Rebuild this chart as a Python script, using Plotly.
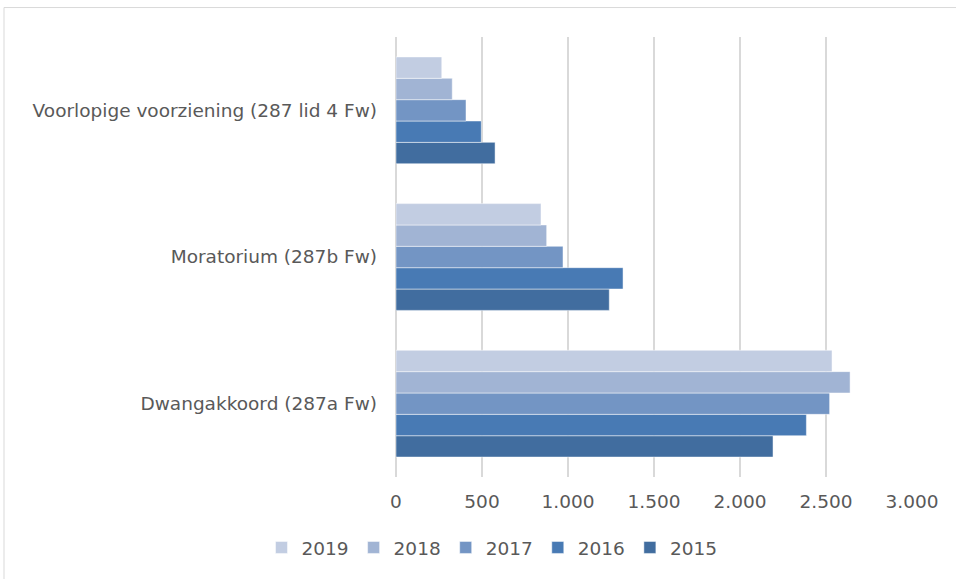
import plotly.graph_objects as go

categories = ["Dwangakkoord (287a Fw)", "Moratorium (287b Fw)", "Voorlopige voorziening (287 lid 4 Fw)"]
years = ["2015", "2016", "2017", "2018", "2019"]
values = {
    "2015": [2192, 1240, 576],
    "2016": [2386, 1320, 496],
    "2017": [2521, 971, 407],
    "2018": [2640, 876, 327],
    "2019": [2535, 843, 266],
}
colors = {
    "2015": "#416d9f",
    "2016": "#487ab4",
    "2017": "#7395c4",
    "2018": "#a1b4d4",
    "2019": "#c2cde2",
}
tick_vals = [0, 500, 1000, 1500, 2000, 2500, 3000]
tick_text = ["0", "500", "1.000", "1.500", "2.000", "2.500", "3.000"]

W, H = 956, 579
L, R, T, B = 396, 912, 36.5, 477

fig = go.Figure()
for y in years:
    fig.add_trace(go.Bar(
        y=categories, x=values[y], name=y, orientation="h",
        marker=dict(color=colors[y], line=dict(color="rgba(255,255,255,0.6)", width=0.8)),
    ))

font_family = "DejaVu Sans, Verdana, sans-serif"
FS = 18.5
fig.update_layout(
    width=W, height=H,
    margin=dict(l=L, r=W - R, t=T, b=H - B, pad=0),
    barmode="group", bargap=0.272, bargroupgap=0,
    plot_bgcolor="white", paper_bgcolor="white",
    font=dict(family=font_family, size=FS, color="#595959"),
    xaxis=dict(range=[0, 3000], tickvals=tick_vals, ticktext=tick_text,
               showgrid=True, gridcolor="#d9d9d9", gridwidth=1.5,
               zeroline=True, zerolinecolor="#d9d9d9", zerolinewidth=1.5,
               showline=False, ticks="", ticklabelstandoff=11,
               tickfont=dict(size=FS, color="#595959"), fixedrange=True),
    yaxis=dict(showgrid=False, zeroline=False, showline=False, ticks="",
               ticklabelstandoff=18, tickfont=dict(size=FS, color="#595959"),
               fixedrange=True),
    legend=dict(orientation="h", traceorder="reversed",
                x=(492 - L) / (R - L), xanchor="center",
                y=(B - 548) / (B - T), yanchor="middle",
                font=dict(size=FS, color="#595959"),
                itemwidth=30),
    showlegend=True,
)

fig.add_shape(type="rect", xref="paper", yref="paper",
              x0=(4 - L) / (R - L), x1=(962 - L) / (R - L),
              y0=(B - 585) / (B - T), y1=(B - 7) / (B - T),
              line=dict(color="#d9d9d9", width=1), fillcolor="rgba(0,0,0,0)", layer="below")

fig.write_html("out.html", config={"displayModeBar": False},
               post_script="document.body.style.margin='0';document.body.style.overflow='hidden';")
